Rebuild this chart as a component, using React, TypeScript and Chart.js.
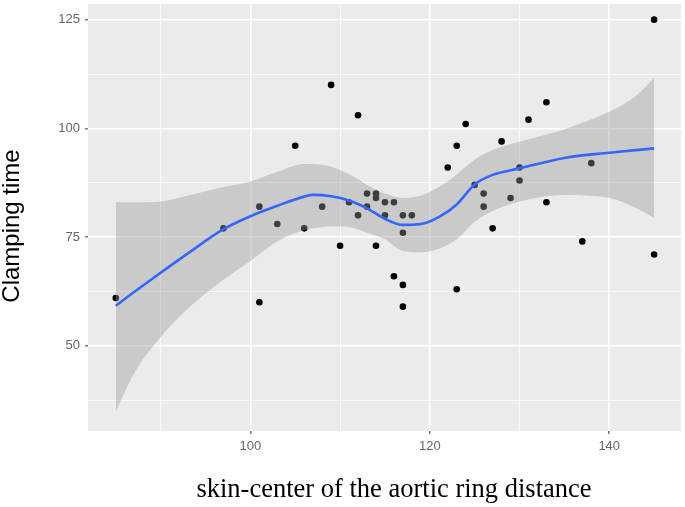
import React, { useEffect, useRef } from "react";
import { Chart, registerables } from "chart.js";

Chart.register(...registerables);

// Observed points
const ptX = [85, 97, 101, 101, 103, 105, 106, 108, 109, 110, 111, 112, 112, 113, 113, 114, 114, 114, 115, 115, 116, 116, 117, 117, 117, 117, 118, 122, 123, 123, 124, 125, 126, 126, 127, 128, 129, 130, 130, 131, 133, 133, 137, 138, 145, 145];
const ptY = [61, 77, 82, 60, 78, 96, 77, 82, 110, 73, 83, 103, 80, 85, 82, 85, 84, 73, 83, 80, 83, 66, 80, 76, 64, 59, 80, 91, 96, 63, 101, 87, 85, 82, 77, 97, 84, 91, 88, 102, 106, 83, 74, 92, 125, 71];

// Loess smoother and its confidence band
const smoothX = [85, 87, 90, 93, 97, 100, 103, 106, 107, 109, 111, 113, 115, 117, 119, 121, 123, 125, 127, 130, 135, 140, 143, 145];
const fitY = [59.2, 62.3, 66.8, 71.2, 76.8, 79.8, 82.2, 84.3, 84.7, 84.4, 83.4, 81.6, 79.2, 77.8, 78.0, 79.6, 82.5, 87.1, 89.3, 90.8, 93.2, 94.4, 95.0, 95.4];
const upperY = [83.0, 83.0, 83.2, 84.5, 86.5, 87.8, 90.0, 91.8, 91.8, 91.2, 89.5, 87.0, 85.0, 84.0, 84.5, 86.5, 89.4, 92.8, 95.0, 96.9, 99.8, 103.8, 107.5, 111.6];
const lowerY = [34.9, 43.5, 52.0, 58.5, 65.2, 69.5, 74.0, 76.6, 77.0, 77.5, 77.3, 76.0, 74.5, 71.8, 71.5, 72.3, 74.5, 78.5, 81.0, 83.2, 84.7, 84.0, 81.7, 79.4];

// Axis ticks
const xMajor = [100, 120, 140];
const xMinor = [90, 110, 130];
const yMajor = [50, 75, 100, 125];
const yMinor = [37.5, 62.5, 87.5, 112.5];

const xTitle = "skin-center of the aortic ring distance";
const yTitle = "Clamping time";

const zip = (xs: number[], ys: number[]) => xs.map((x, i) => ({ x, y: ys[i] }));

export default function App() {
  const ref = useRef<HTMLCanvasElement | null>(null);

  useEffect(() => {
    if (!ref.current) return;
    const panelBg = {
      id: "panelBg",
      beforeDraw(chart: any) {
        const { ctx, chartArea: a } = chart;
        ctx.save();
        ctx.fillStyle = "#EBEBEB";
        ctx.fillRect(a.left, a.top, a.right - a.left, a.bottom - a.top);
        ctx.restore();
      },
      afterDraw(chart: any) {
        const { ctx } = chart;
        ctx.save();
        ctx.fillStyle = "#000";
        ctx.textAlign = "center";
        ctx.textBaseline = "alphabetic";
        ctx.font = '26.5px "Liberation Serif"';
        ctx.fillText(xTitle, 394, 497);
        ctx.textBaseline = "middle";
        ctx.translate(12, 226);
        ctx.rotate(-Math.PI / 2);
        ctx.font = '24px "Liberation Sans"';
        ctx.fillText(yTitle, 0, 0);
        ctx.restore();
      },
    };

    const chart = new Chart(ref.current, {
      type: "line",
      data: {
        datasets: [
          {
            label: "points",
            data: zip(ptX, ptY),
            showLine: false,
            pointRadius: 3.3,
            pointBackgroundColor: "#000",
            pointBorderWidth: 0,
            order: 3,
          } as any,
          {
            label: "lower",
            data: zip(smoothX, lowerY),
            borderWidth: 0,
            borderColor: "rgba(0,0,0,0)",
            pointRadius: 0,
            fill: false,
            cubicInterpolationMode: "monotone",
            order: 2,
          },
          {
            label: "upper",
            data: zip(smoothX, upperY),
            borderWidth: 0,
            borderColor: "rgba(0,0,0,0)",
            pointRadius: 0,
            fill: "-1",
            backgroundColor: "rgba(153,153,153,0.4)",
            cubicInterpolationMode: "monotone",
            order: 1,
          },
          {
            label: "fit",
            data: zip(smoothX, fitY),
            borderWidth: 2.6,
            borderColor: "#3366FF",
            pointRadius: 0,
            fill: false,
            cubicInterpolationMode: "monotone",
            order: 0,
          },
        ],
      },
      options: {
        animation: false,
        responsive: false,
        devicePixelRatio: 1,
        layout: { padding: { top: 2, right: 2, left: 0, bottom: 0 } },
        plugins: { legend: { display: false }, tooltip: { enabled: false } },
        scales: {
          x: {
            type: "linear",
            min: 81.9,
            max: 148,
            afterBuildTicks: (s: any) => {
              s.ticks = [...xMinor, ...xMajor].sort((a, b) => a - b).map((v) => ({ value: v }));
            },
            afterFit: (s: any) => {
              s.height = 76;
              s.paddingLeft = 0;
              s.paddingRight = 0;
            },
            border: { display: false },
            grid: {
              color: "#FFFFFF",
              lineWidth: (c: any) => (xMajor.includes(c.tick?.value) ? 1.6 : 0.8),
              tickColor: (c: any) => (xMajor.includes(c.tick?.value) ? "#555" : "rgba(0,0,0,0)"),
              tickWidth: 1.2,
              tickLength: 3,
            },
            ticks: {
              autoSkip: false,
              maxRotation: 0,
              padding: 5,
              color: "#666",
              font: { family: "Liberation Sans", size: 13 },
              callback: (v: any) => (xMajor.includes(Number(v)) ? String(v) : ""),
            },
          },
          y: {
            type: "linear",
            min: 30.4,
            max: 128.6,
            afterBuildTicks: (s: any) => {
              s.ticks = [...yMinor, ...yMajor].sort((a, b) => a - b).map((v) => ({ value: v }));
            },
            afterFit: (s: any) => {
              s.width = 88;
              s.paddingTop = 0;
              s.paddingBottom = 0;
            },
            border: { display: false },
            grid: {
              color: "#FFFFFF",
              lineWidth: (c: any) => (yMajor.includes(c.tick?.value) ? 1.6 : 0.8),
              tickColor: (c: any) => (yMajor.includes(c.tick?.value) ? "#555" : "rgba(0,0,0,0)"),
              tickWidth: 1.2,
              tickLength: 3,
            },
            ticks: {
              autoSkip: false,
              padding: 5,
              color: "#666",
              font: { family: "Liberation Sans", size: 13 },
              callback: (v: any) => (yMajor.includes(Number(v)) ? String(v) : ""),
            },
          },
        },
      },
      plugins: [panelBg],
    } as any);

    return () => chart.destroy();
  }, []);

  return (
    <div style={{ position: "absolute", left: 0, top: 0, width: 685, height: 507, background: "#fff" }}>
      <canvas ref={ref} width={685} height={507} style={{ width: 685, height: 507, display: "block" }} />
    </div>
  );
}
